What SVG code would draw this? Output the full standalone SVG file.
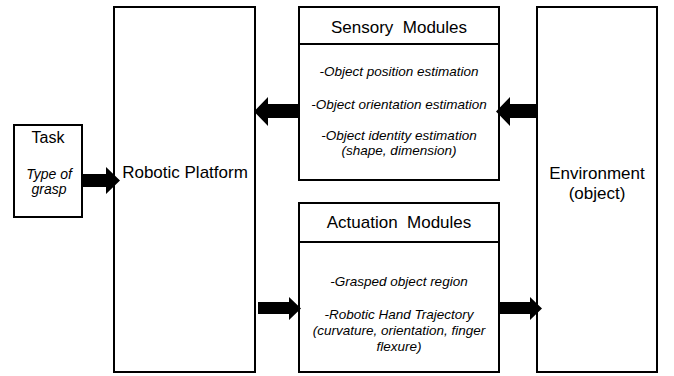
<svg xmlns="http://www.w3.org/2000/svg" width="674" height="376" viewBox="0 0 674 376">
<style>
.box{fill:#fff;stroke:#000;stroke-width:2}
.ln{stroke:#000;stroke-width:2;fill:none}
.t{font-family:"Liberation Sans",Arial,sans-serif;font-size:17px;fill:#000;text-anchor:middle;white-space:pre}
.i{font-family:"Liberation Sans",Arial,sans-serif;font-size:13.5px;font-style:italic;fill:#000;text-anchor:middle}
.ar{fill:#000}
</style>
<rect width="674" height="376" fill="#fff"/>
<g id="task">
<rect class="box" x="14" y="125" width="68" height="92"/>
<text class="t" x="48" y="143" style="font-size:16px">Task</text>
<text class="i" x="49" y="179" style="font-size:14px">Type of</text>
<text class="i" x="49" y="194" style="font-size:14px">grasp</text>
</g>
<g id="robotic-platform">
<rect class="box" x="114" y="7" width="141" height="365"/>
<text class="t" x="185" y="178">Robotic Platform</text>
</g>
<g id="sensory-modules">
<rect class="box" x="299" y="7" width="200" height="173"/>
<line class="ln" x1="299" y1="44" x2="499" y2="44"/>
<text class="t" x="399" y="33">Sensory  Modules</text>
<text class="i" x="399" y="76">-Object position estimation</text>
<text class="i" x="399" y="109">-Object orientation estimation</text>
<text class="i" x="399" y="140">-Object identity estimation</text>
<text class="i" x="399" y="155">(shape, dimension)</text>
</g>
<g id="actuation-modules">
<rect class="box" x="299" y="203" width="200" height="169"/>
<line class="ln" x1="299" y1="242" x2="499" y2="242"/>
<text class="t" x="399" y="228">Actuation  Modules</text>
<text class="i" x="399" y="286">-Grasped object region</text>
<text class="i" x="399" y="319">-Robotic Hand Trajectory</text>
<text class="i" x="399" y="335">(curvature, orientation, finger</text>
<text class="i" x="399" y="351">flexure)</text>
</g>
<g id="environment">
<rect class="box" x="537" y="7" width="120" height="365"/>
<text class="t" x="597" y="179">Environment</text>
<text class="t" x="597" y="199">(object)</text>
</g>
<g id="connectors">
<polygon class="ar" points="82,174 106,174 106,167 120,180.5 106,194 106,187 82,187"/>
<polygon class="ar" points="298,104 268,104 268,97 254,111.5 268,126 268,118 298,118"/>
<polygon class="ar" points="537,104 510,104 510,97 496,111.5 510,126 510,118 537,118"/>
<polygon class="ar" points="258,302 289,302 289,297 301,308.5 289,320 289,314 258,314"/>
<polygon class="ar" points="500,302 530,302 530,297 542,308.5 530,320 530,314 500,314"/>
</g>
</svg>
